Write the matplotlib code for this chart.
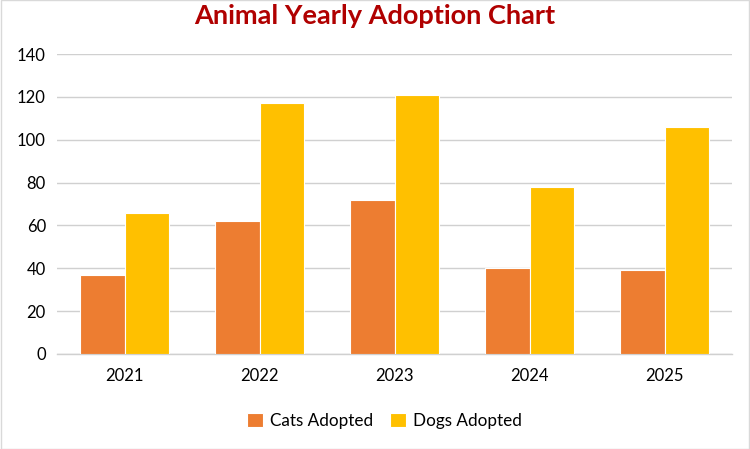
import matplotlib
matplotlib.use("Agg")
import matplotlib.pyplot as plt
import numpy as np

years = ["2021", "2022", "2023", "2024", "2025"]
cats = [37, 62, 72, 40, 39]
dogs = [66, 117, 121, 78, 106]
series_names = ["Cats Adopted", "Dogs Adopted"]
yticks = [0, 20, 40, 60, 80, 100, 120, 140]

plt.rcParams['font.family'] = ['Lato', 'DejaVu Sans']

fig = plt.figure(figsize=(7.5, 4.49), dpi=100)
fig.patch.set_facecolor("white")
ax = fig.add_axes([0.076, 0.2116, 0.9, 0.668])

x = np.arange(len(years))
w = 0.33
ax.bar(x - w/2, cats, width=w, color="#ED7D31", edgecolor="white", linewidth=0.8, label=series_names[0], zorder=3)
ax.bar(x + w/2, dogs, width=w, color="#FFC000", edgecolor="white", linewidth=0.8, label=series_names[1], zorder=3)

ax.set_xlim(-0.5, len(years) - 0.5)
ax.set_ylim(0, 140)
ax.set_yticks(yticks)
ax.set_yticklabels([str(t) for t in yticks], fontsize=12)
ax.set_xticks(x)
ax.set_xticklabels(years, fontsize=12)
ax.tick_params(length=0, pad=10)
ax.tick_params(axis='y', pad=8)
ax.grid(axis='y', color="#D0D0D0", linewidth=1, zorder=0)
for s in ["top", "right", "left"]:
    ax.spines[s].set_visible(False)
ax.spines["bottom"].set_color("#D0D0D0")
ax.spines["bottom"].set_linewidth(1)

fig.suptitle("Animal Yearly Adoption Chart", color="#B00000", fontsize=19.5, fontweight="bold", y=0.99)

leg = fig.legend(loc="center", bbox_to_anchor=(0.513, 0.063), ncol=2, frameon=False, fontsize=12.3,
                 handlelength=0.9, handleheight=0.9, columnspacing=1.0, handletextpad=0.45)

border = plt.Rectangle((0.001, 0.001), 0.998, 0.998, transform=fig.transFigure, fill=False,
                       edgecolor="#D9D9D9", linewidth=1)
fig.add_artist(border)

fig.savefig("out.png", dpi=100, facecolor="white")
